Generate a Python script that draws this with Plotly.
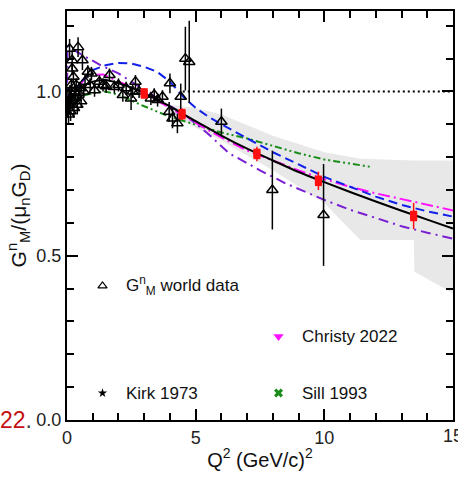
import plotly.graph_objects as go

# ---------------- data ----------------
# world data G_M^n/(mu_n G_D): Q2, value, error
wd_q2 = [0.03, 0.05, 0.06, 0.08, 0.10, 0.10, 0.12, 0.14, 0.15, 0.17, 0.20, 0.20, 0.22, 0.25, 0.27,
         0.30, 0.33, 0.36, 0.40, 0.43, 0.45, 0.50, 0.55, 0.60, 0.65, 0.70, 0.81, 0.90, 0.95, 1.07,
         1.26, 1.40, 1.52, 1.65, 1.84, 2.00, 2.17, 2.30, 2.49, 2.55, 2.66, 2.80, 3.26, 3.39, 3.52,
         3.71, 4.00, 3.97, 4.10, 4.29, 4.42, 4.60, 4.75, 6.00, 7.98, 9.97]
wd_val = [0.95, 0.97, 0.93, 0.99, 0.96, 1.13, 1.00, 0.94, 0.98, 1.02, 1.095, 1.07, 0.97, 1.045, 0.95,
          1.00, 0.98, 1.02, 0.96, 1.135, 0.995, 1.01, 0.97, 1.095, 1.00, 1.03, 1.06, 1.02, 1.055, 1.004,
          1.03, 1.02, 1.016, 1.05, 1.014, 1.02, 0.989, 1.01, 0.979, 1.00, 1.03, 1.00, 0.979, 0.99, 0.974,
          0.984, 1.025, 0.938, 0.918, 0.903, 0.984, 1.10, 1.09, 0.908, 0.70, 0.624]
wd_err = [0.03, 0.02, 0.03, 0.02, 0.03, 0.03, 0.02, 0.03, 0.02, 0.02, 0.03, 0.02, 0.02, 0.02, 0.03,
          0.02, 0.02, 0.02, 0.03, 0.03, 0.02, 0.02, 0.02, 0.03, 0.02, 0.02, 0.02, 0.02, 0.02, 0.02,
          0.02, 0.02, 0.02, 0.02, 0.02, 0.02, 0.02, 0.02, 0.035, 0.02, 0.02, 0.02, 0.02, 0.02, 0.02,
          0.02, 0.03, 0.03, 0.03, 0.03, 0.04, 0.097, 0.125, 0.04, 0.12, 0.155]

# new measurement (red)
new_q2 = [3.0, 4.47, 7.38, 9.77, 13.47]
new_val = [0.994, 0.931, 0.81, 0.728, 0.621]
new_err = [0.015, 0.018, 0.022, 0.028, 0.040]
new_body = [0.016, 0.016, 0.016, 0.016, 0.016]

# fit curve (black)
fit_q2 = [0, 0.5, 1, 1.5, 2, 2.5, 3, 3.5, 4, 4.5, 5, 6, 7, 8, 9, 10, 11, 12, 13, 14, 15]
fit_val = [0.97, 1.01, 1.03, 1.035, 1.025, 1.012, 0.995, 0.975, 0.955, 0.932, 0.91, 0.866, 0.826,
           0.79, 0.755, 0.724, 0.694, 0.665, 0.637, 0.61, 0.583]

# blue dashed model
blue_q2 = [0, 0.5, 1, 1.5, 2, 2.5, 3, 3.5, 4, 4.5, 5, 5.5, 6, 7, 8, 9, 10, 11, 12, 13, 14, 15]
blue_val = [0.96, 1.026, 1.065, 1.08, 1.087, 1.085, 1.075, 1.06, 1.03, 0.985, 0.95, 0.923, 0.9,
            0.857, 0.815, 0.778, 0.74, 0.71, 0.68, 0.655, 0.635, 0.619]

# magenta dash-dot model
mag_q2 = [0, 0.3, 0.7, 1, 1.4, 2, 2.5, 3, 4, 5, 6, 7, 8, 9, 10, 11, 12, 13, 14, 15]
mag_val = [0.96, 1.0, 1.04, 1.05, 1.052, 1.03, 1.015, 0.995, 0.95, 0.905, 0.86, 0.82, 0.79, 0.76,
           0.733, 0.71, 0.69, 0.672, 0.655, 0.638]

# purple dash-dot model
pur_q2 = [0.0, 0.02, 0.4, 1.3, 2.0, 2.8, 3.8, 4.6, 5.5, 6.3, 7.5, 8.5, 10, 11, 12, 13, 14, 15]
pur_val = [0.96, 1.14, 1.12, 1.08, 1.055, 1.015, 0.965, 0.928, 0.87, 0.812, 0.76, 0.72, 0.67, 0.64,
           0.615, 0.59, 0.57, 0.552]

# green dash-dot-dot model
grn_q2 = [0, 0.5, 1, 1.5, 2, 2.5, 3, 4, 5, 6, 7, 8, 9, 10, 11, 11.85]
grn_val = [0.96, 0.985, 0.995, 1.0, 0.99, 0.972, 0.955, 0.923, 0.9, 0.875, 0.857, 0.835, 0.812,
           0.793, 0.78, 0.77]

# uncertainty band
band_q2 = [4, 5, 6, 8, 10, 11.4, 13.48, 13.5, 15]
band_lo = [0.93, 0.89, 0.85, 0.76, 0.66, 0.548, 0.548, 0.451, 0.386]
band_hi = [0.96, 0.95, 0.93, 0.865, 0.815, 0.795, 0.79, 0.79, 0.79]

unity_q2 = [4.5, 15]
unity_val = [1.0, 1.0]

# legend-like labels
leg_x = [1.38, 1.38, 8.22, 8.22]
leg_y = [0.408, 0.082, 0.254, 0.082]
leg_text = ["G<sup>n</sup><sub>M</sub> world data", "Kirk 1973", "Christy 2022", "Sill 1993"]

x_ticks = [0, 5, 10, 15]
x_ticklabels = ["0", "5", "10", ""]
x_last_label = "15"
y_ticks = [0.0, 0.5, 1.0]
y_ticklabels = ["0.0", "0.5", "1.0"]

FONT = "Liberation Sans, Arial, sans-serif"

fig = go.Figure()

# band
fig.add_trace(go.Scatter(x=band_q2 + band_q2[::-1], y=band_hi + band_lo[::-1],
                         fill="toself", fillcolor="#e8e8e8", line=dict(width=0),
                         mode="lines", hoverinfo="skip", showlegend=False))

# model curves
fig.add_trace(go.Scatter(x=grn_q2, y=grn_val, mode="lines",
                         line=dict(color="#1a8c1a", width=2, dash="7px,3px,2px,3px,2px,3px"), showlegend=False))
fig.add_trace(go.Scatter(x=pur_q2, y=pur_val, mode="lines",
                         line=dict(color="#7a1fd2", width=2, dash="10px,5px,2px,5px"), showlegend=False))
fig.add_trace(go.Scatter(x=mag_q2, y=mag_val, mode="lines",
                         line=dict(color="#ff10ff", width=2, dash="12px,4px,2px,4px"), showlegend=False))
fig.add_trace(go.Scatter(x=blue_q2, y=blue_val, mode="lines",
                         line=dict(color="#1020e8", width=2, dash="9px,5px"), showlegend=False))
fig.add_trace(go.Scatter(x=fit_q2, y=fit_val, mode="lines", line_shape="spline",
                         line=dict(color="black", width=2), showlegend=False))

# unity line
fig.add_trace(go.Scatter(x=unity_q2, y=unity_val, mode="lines",
                         line=dict(color="black", width=2, dash="2px,3px"), showlegend=False))

# world data
fig.add_trace(go.Scatter(x=wd_q2, y=wd_val, mode="markers",
                         marker=dict(symbol="triangle-up-open", size=10, color="black", line=dict(width=1.5)),
                         error_y=dict(type="data", array=wd_err, color="black", thickness=1.5, width=0),
                         showlegend=False))

# new data: thin error bars + rectangular body
fig.add_trace(go.Scatter(x=new_q2, y=new_val, mode="markers",
                         marker=dict(symbol="square", size=7, color="#ff1010"),
                         error_y=dict(type="data", array=new_err, color="#ff1010", thickness=1.5, width=0),
                         showlegend=False))
fig.add_trace(go.Scatter(x=new_q2, y=new_val, mode="markers",
                         marker=dict(size=1, color="#ff1010", opacity=0),
                         error_y=dict(type="data", array=new_body, color="#ff1010", thickness=7, width=0),
                         showlegend=False, hoverinfo="skip"))

# legend-like markers
fig.add_trace(go.Scatter(x=[leg_x[0]], y=[leg_y[0]], mode="markers",
                         marker=dict(symbol="triangle-up-open", size=8, color="black", line=dict(width=1.2)),
                         showlegend=False))
fig.add_trace(go.Scatter(x=[leg_x[1]], y=[leg_y[1]], mode="markers",
                         marker=dict(symbol="star", size=7, color="black"), showlegend=False))
fig.add_trace(go.Scatter(x=[leg_x[2]], y=[leg_y[2]], mode="markers",
                         marker=dict(symbol="triangle-down", size=9, color="#ff10ff"), showlegend=False))
fig.add_trace(go.Scatter(x=[leg_x[3]], y=[leg_y[3]], mode="markers",
                         marker=dict(symbol="x", size=8, color="#1a8c1a"), showlegend=False))

for lx, ly, lt in zip(leg_x, leg_y, leg_text):
    fig.add_annotation(x=lx + 0.85, y=ly, text=lt, showarrow=False, xanchor="left", yanchor="middle",
                       font=dict(family=FONT, size=17, color="#111"))

# last x tick label (partly cut by the page edge, as in the original)
fig.add_annotation(x=x_ticks[-1], xref="x", y=0, yref="paper", yanchor="top", yshift=-4,
                   text=x_last_label, showarrow=False, font=dict(family=FONT, size=18, color="#222"))

# stray label at lower left
fig.add_annotation(xref="paper", yref="paper", x=-0.085, y=0.0, xanchor="right", yanchor="middle",
                   text="<span style='color:#c41010'>22</span>.", showarrow=False,
                   font=dict(family=FONT, size=23, color="#444"))

axis_common = dict(showline=True, linecolor="black", linewidth=2, mirror="allticks",
                   ticks="inside", tickcolor="black", tickwidth=1.5, showgrid=False, zeroline=False,
                   tickfont=dict(family=FONT, size=18, color="#222"))

fig.update_xaxes(range=[0, 15], tickvals=x_ticks, ticktext=x_ticklabels, ticklen=11,
                 minor=dict(dtick=1, tick0=0, ticklen=7, ticks="inside", tickcolor="black", tickwidth=1.5),
                 title=dict(text="Q<sup>2</sup> (GeV/c)<sup>2</sup>", font=dict(family=FONT, size=20, color="#111"),
                            standoff=6),
                 **axis_common)
fig.update_yaxes(range=[0, 1.245], tickvals=y_ticks, ticktext=y_ticklabels, ticklen=11,
                 minor=dict(dtick=0.1, tick0=0, ticklen=7, ticks="inside", tickcolor="black", tickwidth=1.5),
                 title=dict(text="G<sup>n</sup><sub>M</sub>/(μ<sub>n</sub>G<sub>D</sub>)",
                            font=dict(family=FONT, size=21, color="#111"), standoff=4),
                 **axis_common)

fig.update_layout(width=458, height=482, margin=dict(l=67, r=3, t=11, b=62),
                  plot_bgcolor="white", paper_bgcolor="white", showlegend=False)

fig.write_html("out.html")
